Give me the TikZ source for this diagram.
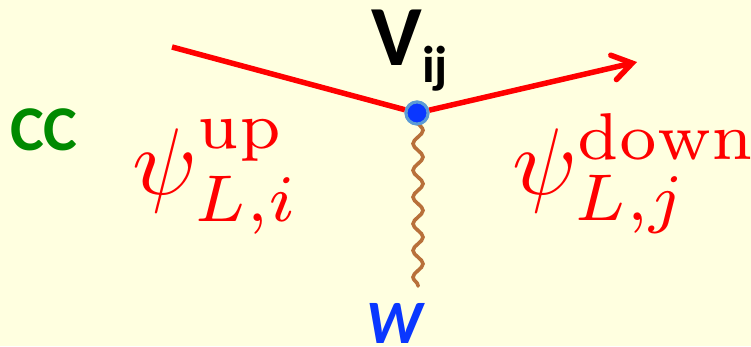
\documentclass[tikz,border=0pt]{standalone}
\usepackage{fontspec}
\usetikzlibrary{arrows.meta,decorations.pathmorphing}
\newfontfamily\labelfont{Carlito}
\definecolor{bgc}{HTML}{FFFFE0}
\definecolor{fermion}{HTML}{FF0000}
\definecolor{dotfill}{HTML}{0A37FF}
\definecolor{dotedge}{HTML}{5B9BD5}
\definecolor{wavec}{HTML}{B8703A}
\definecolor{wblue}{HTML}{0A37FF}
\definecolor{ccgreen}{HTML}{008A00}
\tikzset{
  fermionline/.style={draw=fermion,line width=5.5bp},
  bosonline/.style={draw=wavec,line width=3.6bp,line cap=round,decorate,decoration={snake,segment length=26.7bp,amplitude=5bp,pre length=0bp,post length=0bp}},
  vertexdot/.style={circle,fill=dotfill,draw=dotedge,line width=3bp,minimum size=22bp,inner sep=0pt},
  psilabel/.style={text=fermion,inner sep=0pt,scale=9.5},
  sanslabel/.style={inner sep=0pt}
}
\begin{document}
\begin{tikzpicture}[x=1bp,y=-1bp]
\useasboundingbox (0,0) rectangle (751,346);
\fill[bgc] (0,0) rectangle (751,346);
\coordinate (in) at (172,47);
\coordinate (out) at (637,62);
\coordinate (wstart) at (418,122);
\coordinate (wend) at (418,286);
\node[vertexdot] (v) at (417,113) {};
\draw[fermionline] (in) -- (v);
\draw[fermionline,-{Straight Barb[length=19bp,width=25bp,line cap=round]}] (v) -- (out);
\draw[bosonline] (wstart) -- (wend);
\node[vertexdot] at (v) {};
\node[sanslabel,text=black,anchor=base west,font=\labelfont\bfseries\fontsize{86}{86}\selectfont] (vlab) at (371,65) {V};
\node[sanslabel,text=black,anchor=base west,font=\labelfont\bfseries\fontsize{52}{52}\selectfont] (ij) at (422,82) {ij};
\node[sanslabel,text=ccgreen,anchor=base west,font=\labelfont\bfseries\fontsize{64}{64}\selectfont] (cc) at (10,150) {CC};
\node[sanslabel,text=wblue,anchor=base west,font=\labelfont\bfseries\itshape\fontsize{62}{62}\selectfont] (w) at (366,343) {W};
\node[psilabel,anchor=base west] (psiu) at (131,194) {$\psi^{\mathrm{up}}_{L,i}$};
\node[psilabel,anchor=base west] (psid) at (511,194) {$\psi^{\mathrm{down}}_{L,j}$};
\end{tikzpicture}
\end{document}
